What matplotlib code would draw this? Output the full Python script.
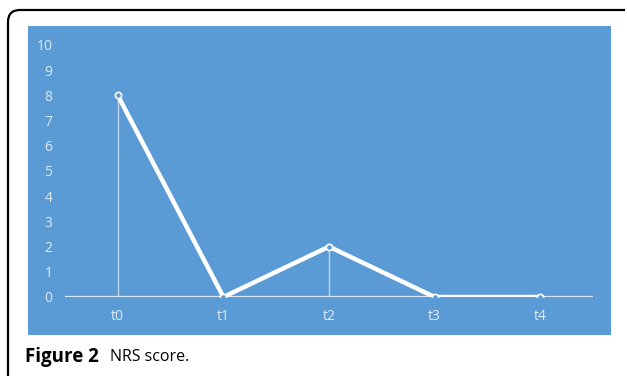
import matplotlib.pyplot as plt
from matplotlib.patches import Rectangle
from matplotlib.path import Path
from matplotlib.patches import PathPatch

plt.rcParams["font.family"] = ["Open Sans", "DejaVu Sans"]

# NRS score at each time point
time_points = ["t0", "t1", "t2", "t3", "t4"]
nrs_scores = [8, 0, 2, 0, 0]
y_ticks = [0, 1, 2, 3, 4, 5, 6, 7, 8, 9, 10]

BLUE = "#5b9bd5"
PALE = "#dde9f6"

W, H = 627, 376
fig = plt.figure(figsize=(W / 100, H / 100), dpi=100)

# blue chart panel
fig.patches.append(Rectangle((28 / W, 1 - 335 / H), 583 / W, 309 / H,
                             transform=fig.transFigure, facecolor=BLUE,
                             edgecolor="none", zorder=0))

# rounded frame line (top and left)
verts = [(625 / W, 1 - 10 / H), (20 / W, 1 - 10 / H), (8 / W, 1 - 10 / H),
         (8 / W, 1 - 22 / H), (8 / W, 0.0)]
codes = [Path.MOVETO, Path.LINETO, Path.CURVE3, Path.CURVE3, Path.LINETO]
fig.patches.append(PathPatch(Path(verts, codes), transform=fig.transFigure,
                             facecolor="none", edgecolor="black", lw=1.6))

ax = fig.add_axes([65 / W, 1 - 297 / H, 528 / W, 252 / H])
ax.set_zorder(5)
ax.patch.set_visible(False)
x = list(range(len(time_points)))

# drop lines
ax.vlines(x, 0, nrs_scores, colors="white", lw=1.0, alpha=0.6, zorder=2)
ax.axhline(0, color=PALE, lw=1.6, zorder=2)
ax.plot(x, nrs_scores, color="white", lw=3.2, marker="o", ms=4.5,
        mfc=BLUE, mec="white", mew=1.2, zorder=3, solid_capstyle="round")

ax.set_xlim(-0.5, len(time_points) - 0.5)
ax.set_ylim(0, 10)
ax.set_xticks(x)
ax.set_xticklabels(time_points)
ax.set_yticks(y_ticks)
ax.tick_params(axis="both", length=0, colors=PALE, labelsize=10)
ax.tick_params(axis="x", pad=9)
ax.tick_params(axis="y", pad=9)
for s in ax.spines.values():
    s.set_visible(False)

fig.text(25 / W, 1 - 357 / H, "Figure 2", fontsize=13.5, fontweight="bold",
         va="center", ha="left", color="black")
fig.text(110 / W, 1 - 357 / H, "NRS score.", fontsize=11.5,
         va="center", ha="left", color="black")

fig.savefig("out.png", dpi=100)
